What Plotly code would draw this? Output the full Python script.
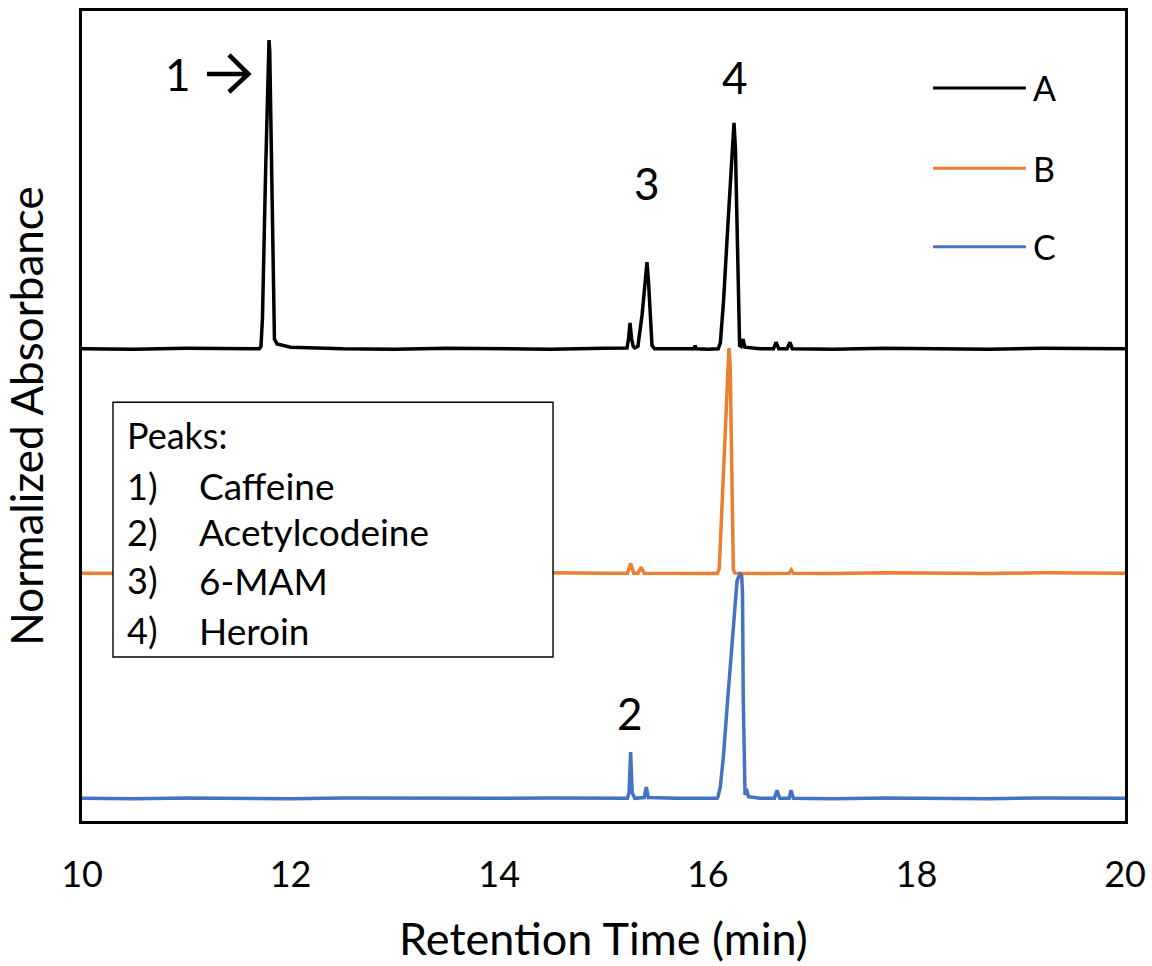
import plotly.graph_objects as go

# ---- data (retention time in min, normalized absorbance incl. stacking offset) ----
a_time = [10.0, 10.5, 11.0, 11.4, 11.70, 11.716, 11.73, 11.76, 11.785, 11.793, 11.80, 11.82, 11.836,
          11.845, 11.87, 11.95, 12.0, 12.5, 13.0, 13.5, 14.0, 14.5, 15.0,
          15.20, 15.225, 15.24, 15.254, 15.27, 15.285, 15.30, 15.33, 15.37, 15.40, 15.417, 15.432, 15.45,
          15.465, 15.49, 15.7, 15.87, 15.877, 15.89, 16.0,
          16.10, 16.12, 16.15, 16.19, 16.23, 16.251, 16.265, 16.28, 16.295, 16.305, 16.32, 16.338, 16.355,
          16.5, 16.63, 16.654, 16.68, 16.76, 16.788, 16.81, 17.2, 17.7, 18.2, 18.7, 19.2, 19.6, 20.0]
a_abs = [0.583, 0.5825, 0.5835, 0.583, 0.583, 0.586, 0.62, 0.80, 0.95, 0.964, 0.95, 0.78, 0.62,
         0.595, 0.589, 0.586, 0.585, 0.583, 0.5825, 0.5835, 0.583, 0.5825, 0.5835,
         0.583, 0.584, 0.595, 0.615, 0.595, 0.586, 0.584, 0.586, 0.625, 0.675, 0.690, 0.665, 0.61,
         0.587, 0.583, 0.5835, 0.583, 0.587, 0.583, 0.5825,
         0.583, 0.59, 0.64, 0.73, 0.83, 0.862, 0.83, 0.72, 0.60, 0.587, 0.586, 0.595, 0.585,
         0.583, 0.583, 0.591, 0.583, 0.583, 0.591, 0.583, 0.5825, 0.5835, 0.583, 0.5825, 0.5835, 0.583, 0.583]

b_time = [10.0, 10.5, 11.0, 11.5, 12.0, 12.5, 13.0, 13.5, 14.0, 14.5, 15.0, 15.23, 15.26, 15.29, 15.33,
          15.36, 15.39, 15.7, 16.09, 16.11, 16.14, 16.17, 16.195, 16.203, 16.215, 16.228, 16.238, 16.245,
          16.26, 16.5, 16.78, 16.80, 16.82, 17.2, 17.7, 18.2, 18.7, 19.2, 19.6, 20.0]
b_abs = [0.306, 0.3055, 0.3065, 0.3055, 0.306, 0.3065, 0.3055, 0.306, 0.3055, 0.3065, 0.306, 0.306, 0.318,
         0.306, 0.306, 0.313, 0.306, 0.3055, 0.3055, 0.312, 0.40, 0.51, 0.578, 0.584, 0.56, 0.45, 0.33,
         0.31, 0.306, 0.3055, 0.306, 0.310, 0.306, 0.3055, 0.3065, 0.306, 0.3055, 0.3065, 0.306, 0.306]

c_time = [10.0, 10.5, 11.0, 11.5, 12.0, 12.5, 13.0, 13.5, 14.0, 14.5, 15.0, 15.23, 15.245, 15.26,
          15.275, 15.30, 15.39, 15.41, 15.43, 15.7,
          16.09, 16.098, 16.12, 16.15, 16.19, 16.24, 16.28, 16.30, 16.31, 16.325, 16.333, 16.34, 16.348,
          16.357, 16.37, 16.39, 16.5, 16.64, 16.663, 16.69, 16.78, 16.798, 16.82, 17.2, 17.7, 18.2, 18.7,
          19.2, 19.6, 20.0]
c_abs = [0.028, 0.0275, 0.0285, 0.028, 0.0275, 0.0285, 0.028, 0.0275, 0.028, 0.0285, 0.028, 0.028, 0.035,
         0.085, 0.035, 0.028, 0.029, 0.042, 0.029, 0.028,
         0.028, 0.030, 0.042, 0.080, 0.149, 0.236, 0.296, 0.303, 0.305, 0.303, 0.28, 0.15, 0.051,
         0.032, 0.040, 0.030, 0.028, 0.028, 0.038, 0.028, 0.028, 0.038, 0.028, 0.0275, 0.0285, 0.028,
         0.0275, 0.0285, 0.028, 0.028]

series_names = ["A", "B", "C"]
series_colors = ["#000000", "#ED7D31", "#4472C4"]

peak_labels = ["1", "3", "4", "2"]
peak_label_x = [10.92, 15.42, 16.26, 15.25]
peak_label_y = [0.922, 0.788, 0.919, 0.133]

legend_box_title = "Peaks:"
legend_box_nums = ["1)", "2)", "3)", "4)"]
legend_box_names = ["Caffeine", "Acetylcodeine", "6-MAM", "Heroin"]

x_ticks = [10, 12, 14, 16, 18, 20]

FONT = "Lato"

fig = go.Figure()
for t, y, name, col in zip([a_time, b_time, c_time], [a_abs, b_abs, c_abs], series_names, series_colors):
    fig.add_trace(go.Scatter(x=t, y=y, mode="lines", name=name,
                             line=dict(color=col, width=3.5), showlegend=False))

# manual legend (top right)
leg_y = [0.905, 0.806, 0.709]
for name, col, yy in zip(series_names, series_colors, leg_y):
    fig.add_shape(type="line", xref="paper", yref="paper", x0=0.816, x1=0.905, y0=yy, y1=yy,
                  line=dict(color=col, width=3))
    fig.add_annotation(xref="paper", yref="paper", x=0.91, y=yy, text=name, showarrow=False,
                       xanchor="left", yanchor="middle", font=dict(family=FONT, size=34, color="black"))

# peak labels
for txt, xx, yy in zip(peak_labels, peak_label_x, peak_label_y):
    fig.add_annotation(x=xx, y=yy, text=txt, showarrow=False, xanchor="center", yanchor="middle",
                       font=dict(family=FONT, size=44, color="black"))
# arrow pointing at peak 1 (drawn as a chevron arrow path)
fig.add_shape(type="path", xref="x", yref="y",
              path="M 11.198,0.9222 L 11.585,0.9222 M 11.409,0.9457 L 11.595,0.9222 L 11.409,0.9000",
              line=dict(color="black", width=4.5))

# peaks text box
fig.add_shape(type="rect", xref="paper", yref="paper", x0=0.0297, x1=0.4516, y0=0.2025, y1=0.517,
              line=dict(color="black", width=1.4), fillcolor="white", layer="above")
fig.add_annotation(xref="paper", yref="paper", x=0.0412, y=0.4765, text=legend_box_title, showarrow=False,
                   xanchor="left", yanchor="middle", font=dict(family=FONT, size=36, color="black"))
box_y = [0.4136, 0.3568, 0.2975, 0.2358]
for n, nm, yy in zip(legend_box_nums, legend_box_names, box_y):
    fig.add_annotation(xref="paper", yref="paper", x=0.0412, y=yy, text=n, showarrow=False,
                       xanchor="left", yanchor="middle", font=dict(family=FONT, size=36, color="black"))
    fig.add_annotation(xref="paper", yref="paper", x=0.1102, y=yy, text=nm, showarrow=False,
                       xanchor="left", yanchor="middle", font=dict(family=FONT, size=37, color="black"))

fig.update_layout(
    width=1152, height=966,
    margin=dict(l=82, r=27, t=11, b=145),
    plot_bgcolor="white", paper_bgcolor="white",
    font=dict(family=FONT, color="black"),
    xaxis=dict(range=[10, 20], tickvals=x_ticks, ticktext=[str(v) for v in x_ticks], automargin=False,
               showgrid=False, zeroline=False, showline=True, linecolor="black", linewidth=3,
               mirror=True, ticks="", ticklen=0, ticklabelstandoff=20, tickfont=dict(family=FONT, size=36),
               title=dict(text="Retention Time (min)", font=dict(family=FONT, size=45), standoff=30)),
    yaxis=dict(range=[0, 1], showticklabels=False, showgrid=False, zeroline=False, showline=True,
               linecolor="black", linewidth=3, mirror=True, ticks="", automargin=False,
               title=dict(text="Normalized Absorbance", font=dict(family=FONT, size=44), standoff=24)),
)

fig.write_html("out.html", config={"displayModeBar": False},
               post_script="document.body.style.margin='0px';")
